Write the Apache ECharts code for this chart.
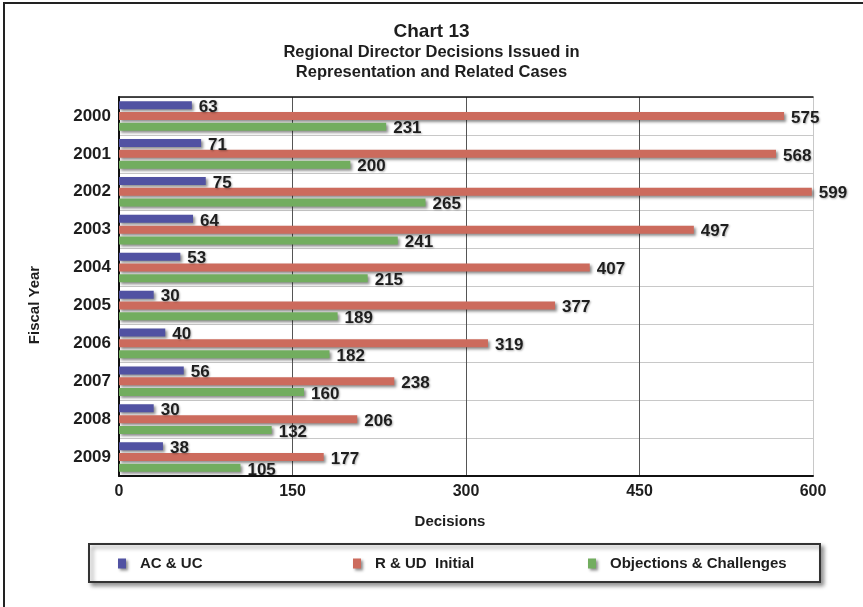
<!DOCTYPE html>
<html>
<head>
<meta charset="utf-8">
<title>Chart 13</title>
<script src="https://cdn.jsdelivr.net/npm/echarts@6/dist/echarts.min.js"></script>
<style>
  html, body { margin: 0; padding: 0; background: #fff; }
  #chart { width: 863px; height: 607px; }
</style>
</head>
<body>
<div id="chart"></div>
<script>
// Fiscal years, top to bottom
const years = ['2000', '2001', '2002', '2003', '2004', '2005', '2006', '2007', '2008', '2009'];
// Decisions issued per fiscal year
const acUc = [63, 71, 75, 64, 53, 30, 40, 56, 30, 38];
const rUdInitial = [575, 568, 599, 497, 407, 377, 319, 238, 206, 177];
const objections = [231, 200, 265, 241, 215, 189, 182, 160, 132, 105];
// Decision axis ticks
const xTicks = [0, 150, 300, 450, 600];

const FONT = '"Liberation Sans", Arial, Helvetica, sans-serif';
const TEXT = '#1e1e1e';

const colors = { ac: '#5152a2', rud: '#cc6b5d', obj: '#72ad5f' };

const barShadow = {
  shadowColor: 'rgba(0,0,0,0.45)',
  shadowBlur: 3,
  shadowOffsetX: 2,
  shadowOffsetY: 2
};

const valueLabel = {
  show: true,
  position: 'right',
  distance: 7,
  offset: [0, 2],
  fontFamily: FONT,
  fontWeight: 'bold',
  fontSize: 17,
  color: TEXT,
  textShadowColor: 'rgba(0,0,0,0.3)',
  textShadowBlur: 2,
  textShadowOffsetX: 1,
  textShadowOffsetY: 1
};

function barSeries(name, data, color) {
  return {
    name: name,
    type: 'bar',
    data: data,
    barWidth: 8,
    barGap: '35%',
    itemStyle: Object.assign({ color: color }, barShadow),
    label: valueLabel,
    emphasis: { disabled: true }
  };
}

function legendItem(name, left, color) {
  return {
    data: [name],
    left: left,
    top: 556,
    padding: 0,
    z: 5,
    icon: 'rect',
    itemWidth: 8,
    itemHeight: 10,
    selectedMode: false,
    itemStyle: Object.assign({ color: color }, barShadow),
    textStyle: {
      fontFamily: FONT,
      fontWeight: 'bold',
      fontSize: 15,
      color: TEXT,
      padding: [0, 0, 0, 9]
    }
  };
}

const chart = echarts.init(document.getElementById('chart'), null, { renderer: 'canvas' });

chart.setOption({
  animation: false,
  backgroundColor: '#fff',
  title: {
    text: 'Chart 13',
    subtext: 'Regional Director Decisions Issued in\nRepresentation and Related Cases',
    left: 'center',
    top: 17,
    itemGap: 1,
    textStyle: { fontFamily: FONT, fontWeight: 'bold', fontSize: 19, color: TEXT },
    subtextStyle: { fontFamily: FONT, fontWeight: 'bold', fontSize: 16.5, color: TEXT, lineHeight: 20 }
  },
  legend: [
    legendItem('AC & UC', 118, colors.ac),
    legendItem('R & UD  Initial', 353, colors.rud),
    legendItem('Objections & Challenges', 588, colors.obj)
  ],
  grid: { left: 119, right: 50, top: 97, bottom: 131, containLabel: false },
  xAxis: [
    {
      type: 'value',
      min: xTicks[0],
      max: xTicks[xTicks.length - 1],
      interval: xTicks[1] - xTicks[0],
      axisLine: { show: true, lineStyle: { color: '#111', width: 2 } },
      axisTick: { show: false },
      axisLabel: { fontFamily: FONT, fontWeight: 'bold', fontSize: 16, color: TEXT, margin: 8 },
      splitLine: { show: true, lineStyle: { color: ['#555', '#555', '#555', '#555', '#c8c8c8'], width: 1 } }
    },
    {
      type: 'value',
      position: 'top',
      min: xTicks[0],
      max: xTicks[xTicks.length - 1],
      axisLine: { show: true, lineStyle: { color: '#111', width: 1.5 } },
      axisTick: { show: false },
      axisLabel: { show: false },
      splitLine: { show: false }
    }
  ],
  yAxis: {
    type: 'category',
    data: years,
    inverse: true,
    axisLine: { show: true, lineStyle: { color: '#111', width: 2 } },
    axisTick: { show: false },
    axisLabel: { fontFamily: FONT, fontWeight: 'bold', fontSize: 17, color: TEXT, margin: 8 },
    splitLine: { show: true, lineStyle: { color: '#c8c8c8', width: 1 } }
  },
  graphic: [
    {
      type: 'rect',
      z: 0,
      silent: true,
      shape: { x: 4, y: 3, width: 900, height: 700 },
      style: { fill: 'none', stroke: '#222', lineWidth: 2 }
    },
    {
      type: 'rect',
      z: 1,
      silent: true,
      shape: { x: 89, y: 544, width: 731, height: 38 },
      style: {
        fill: '#fff', stroke: '#333', lineWidth: 2,
        shadowColor: 'rgba(0,0,0,0.4)', shadowBlur: 4, shadowOffsetX: 3, shadowOffsetY: 3
      }
    },
    {
      type: 'text',
      z: 2,
      silent: true,
      x: 35,
      y: 305,
      rotation: Math.PI / 2,
      style: {
        text: 'Fiscal Year',
        fontFamily: FONT, fontWeight: 'bold', fontSize: 15, fill: TEXT,
        align: 'center', verticalAlign: 'middle'
      }
    },
    {
      type: 'text',
      z: 2,
      silent: true,
      x: 450,
      y: 522,
      style: {
        text: 'Decisions',
        fontFamily: FONT, fontWeight: 'bold', fontSize: 15, fill: TEXT,
        align: 'center', verticalAlign: 'middle'
      }
    }
  ],
  series: [
    barSeries('AC & UC', acUc, colors.ac),
    barSeries('R & UD  Initial', rUdInitial, colors.rud),
    barSeries('Objections & Challenges', objections, colors.obj)
  ]
});
</script>
</body>
</html>
